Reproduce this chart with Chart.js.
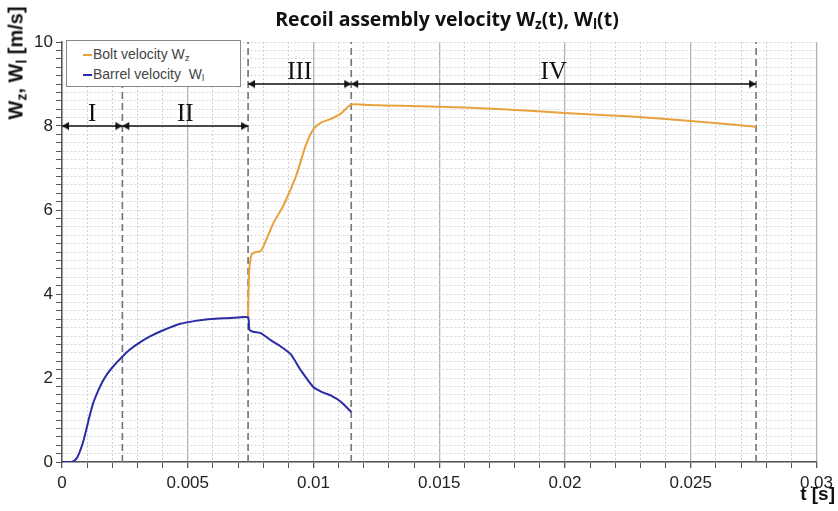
<!DOCTYPE html>
<html>
<head>
<meta charset="utf-8">
<script src="https://cdn.jsdelivr.net/npm/chart.js@4.4.1/dist/chart.umd.min.js"></script>
<style>
  body { margin: 0; background: #fff; }
  #wrap { position: relative; width: 838px; height: 511px; }
  #title { position: absolute; left: 447px; top: 5px; transform: translateX(-50%); white-space: nowrap;
           font: bold 19.5px "Open Sans", sans-serif; color: #111; }
  #ytitle { position: absolute; left: 16px; top: 63px; transform: translate(-50%, -50%) rotate(-90deg); white-space: nowrap;
            font: bold 20px "Liberation Sans", Arial, sans-serif; color: #111; }
  #xtitle { position: absolute; right: 3px; top: 483px; white-space: nowrap;
            font: bold 19px "Liberation Sans", Arial, sans-serif; color: #111; }
  #legend { position: absolute; left: 66px; top: 40px; width: 173px; height: 45px; border: 1px solid #8a8a8a; background: #fff;
            font: 14px "Liberation Sans", Arial, sans-serif; color: #444; }
  #legend div { position: absolute; left: 16px; white-space: nowrap; }
  #legend span.sw { display: inline-block; width: 9px; height: 2px; vertical-align: middle; margin-right: 1px; }
  sub { font-size: 70%; vertical-align: -0.25em; line-height: 0; }
</style>
</head>
<body>
<div id="wrap">
  <canvas id="chart" width="838" height="511"></canvas>
  <div id="title">Recoil assembly velocity W<sub>z</sub>(t), W<sub>l</sub>(t)</div>
  <div id="ytitle">W<sub>z</sub>, W<sub>l</sub> [m/s]</div>
  <div id="xtitle">t [s]</div>
  <div id="legend">
    <div style="top:5px"><span class="sw" style="background:#e8a23c"></span>Bolt velocity W<sub>z</sub></div>
    <div style="top:25px"><span class="sw" style="background:#2b2ba8"></span>Barrel velocity &nbsp;W<sub>l</sub></div>
  </div>
</div>
<script>
// barrel velocity W_l(t)
const tBarrel = [0, 0.0004, 0.0006, 0.00085, 0.0011, 0.00125, 0.00144, 0.0016, 0.00178, 0.002, 0.00237, 0.0027,
                 0.0031, 0.0035, 0.004, 0.0047, 0.0053, 0.0058, 0.0064, 0.007, 0.0074, 0.00745, 0.0076, 0.0079,
                 0.0083, 0.0087, 0.0091, 0.0095, 0.01, 0.0104, 0.0107, 0.0111, 0.0115];
const wBarrel = [0, 0, 0.1, 0.5, 1.1, 1.42, 1.7, 1.9, 2.08, 2.25, 2.49, 2.68,
                 2.85, 2.99, 3.13, 3.29, 3.36, 3.4, 3.42, 3.44, 3.44, 3.15, 3.1, 3.07,
                 2.9, 2.75, 2.56, 2.18, 1.78, 1.65, 1.58, 1.43, 1.19];

// bolt velocity W_z(t)
const tBolt = [0.0074, 0.00742, 0.00745, 0.0075, 0.00755, 0.0077, 0.0079, 0.008, 0.0084, 0.0088, 0.0093, 0.0097,
               0.01, 0.0103, 0.0107, 0.0111, 0.0115, 0.0122, 0.0135, 0.015, 0.0175, 0.02, 0.0225, 0.025, 0.0276];
const wBolt = [3.44, 4.1, 4.6, 4.85, 4.95, 5.0, 5.02, 5.12, 5.68, 6.1, 6.8, 7.55,
               7.93, 8.08, 8.17, 8.3, 8.51, 8.5, 8.48, 8.46, 8.4, 8.31, 8.23, 8.12, 7.98];

// phases of the cycle
const phaseBounds = [0, 0.0024, 0.0074, 0.0115, 0.0276];
const phaseNames = ['I', 'II', 'III', 'IV'];
const arrowLevels = [8, 8, 9, 9];

const xMin = 0, xMax = 0.03, yMin = 0, yMax = 10;

const toPoints = (xs, ys) => xs.map((x, i) => ({ x: x, y: ys[i] }));

// arrow head with its tip at the centre of the image, pointing right
const arrowHead = document.createElement('canvas');
arrowHead.width = 16; arrowHead.height = 9;
(function () {
  const c = arrowHead.getContext('2d');
  c.fillStyle = '#111';
  c.beginPath(); c.moveTo(1, 0.5); c.lineTo(8, 4.5); c.lineTo(1, 8.5); c.closePath(); c.fill();
})();

const datasets = [
  { label: 'Barrel velocity', data: toPoints(tBarrel, wBarrel), borderColor: '#2b2ba8', borderWidth: 2, pointRadius: 0, tension: 0.2 },
  { label: 'Bolt velocity', data: toPoints(tBolt, wBolt), borderColor: '#e8a23c', borderWidth: 2, pointRadius: 0, tension: 0.2 }
];

// arrows for each phase
phaseNames.forEach((name, i) => {
  datasets.push({
    label: 'arrow ' + name,
    data: [{ x: phaseBounds[i], y: arrowLevels[i] }, { x: phaseBounds[i + 1], y: arrowLevels[i] }],
    borderColor: '#111', borderWidth: 1.5,
    pointStyle: arrowHead, pointRotation: [180, 0], pointRadius: 5
  });
});

// dashed phase boundaries
phaseBounds.slice(1).forEach(b => {
  datasets.push({
    label: 'bound',
    data: [{ x: b, y: yMin }, { x: b, y: yMax }],
    borderColor: '#7a7a7a', borderWidth: 1.7, borderDash: [7, 4], pointRadius: 0
  });
});

const isMajorX = v => Math.round(v * 1000) % 5 === 0;
const isMajorY = v => Math.round(v * 5) % 10 === 0;

// phase names above the arrows
const phaseLabels = {
  id: 'phaseLabels',
  afterDatasetsDraw(chart) {
    const { ctx, scales: { x, y } } = chart;
    ctx.save();
    ctx.font = '25px "Liberation Serif", serif';
    ctx.fillStyle = '#111';
    ctx.textAlign = 'center';
    ctx.textBaseline = 'alphabetic';
    phaseNames.forEach((name, i) => {
      const cx = x.getPixelForValue((phaseBounds[i] + phaseBounds[i + 1]) / 2);
      ctx.fillText(name, cx, y.getPixelForValue(arrowLevels[i]) - 5);
    });
    ctx.restore();
  }
};

new Chart(document.getElementById('chart'), {
  type: 'line',
  data: { datasets: datasets },
  options: {
    responsive: false,
    devicePixelRatio: 1,
    animation: false,
    layout: { padding: { top: 42, right: 21, left: 0, bottom: 0 } },
    plugins: { legend: { display: false }, title: { display: false }, tooltip: { enabled: false } },
    scales: {
      x: {
        type: 'linear', min: xMin, max: xMax,
        afterFit: s => { s.height = 49; },
        ticks: {
          stepSize: 0.001, autoSkip: false, maxRotation: 0, padding: 5,
          color: '#222', font: { family: '"Liberation Sans", Arial', size: 17 },
          callback: v => isMajorX(v) ? String(+v.toFixed(3)) : ''
        },
        grid: {
          color: c => c.tick && isMajorX(c.tick.value) ? '#b3b3b3' : '#cfcfcf',
          lineWidth: c => c.tick && isMajorX(c.tick.value) ? 1.3 : 1,
          tickColor: '#555', tickLength: 6
        },
        border: { color: '#555', width: 1.5, dash: c => (c.tick && !isMajorX(c.tick.value)) ? [2, 2] : [] }
      },
      y: {
        type: 'linear', min: yMin, max: yMax,
        afterFit: s => { s.width = 62; },
        ticks: {
          stepSize: 0.2, autoSkip: false, padding: 3,
          color: '#222', font: { family: '"Liberation Sans", Arial', size: 17 },
          callback: v => isMajorY(v) ? String(Math.round(v)) : ''
        },
        grid: { color: '#d6d6d6', lineWidth: 1, tickColor: '#555', tickLength: 6 },
        border: { color: '#555', width: 1.5, dash: c => c.tick ? [2, 2] : [] }
      }
    }
  },
  plugins: [phaseLabels]
});
</script>
</body>
</html>
